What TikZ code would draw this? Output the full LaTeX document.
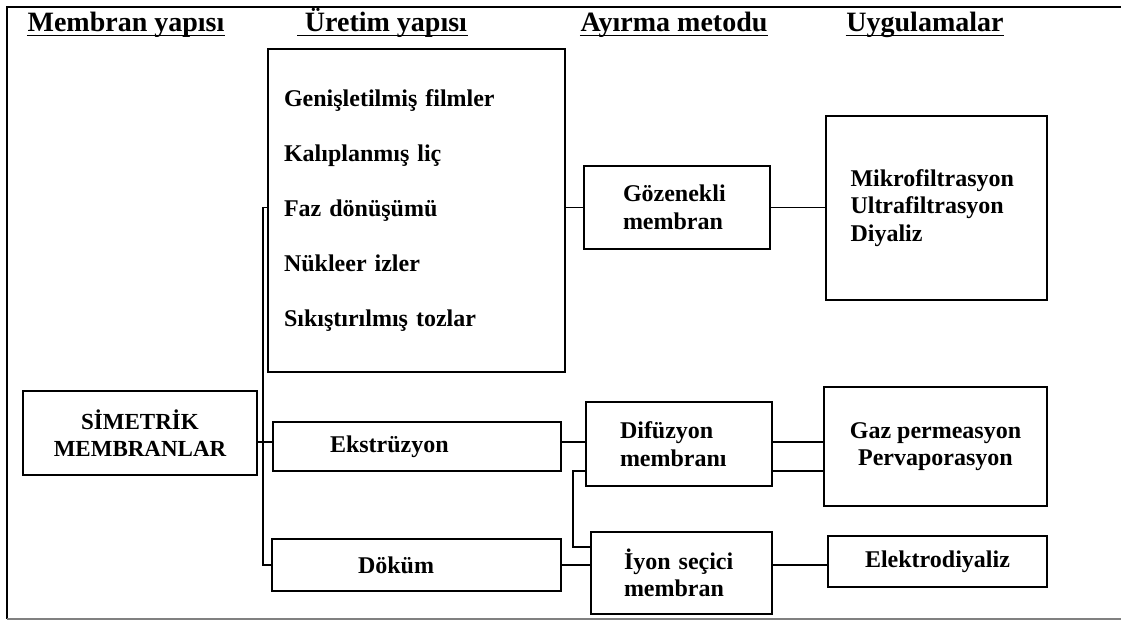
\documentclass[tikz,border=0pt]{standalone}
\usepackage{fontspec}
\setmainfont{Liberation Serif}
\usepackage{tikz}
\usetikzlibrary{calc}
\tikzset{every picture/.style={/utils/exec={\bfseries}}}

\begin{document}
\begin{tikzpicture}[x=1pt, y=-1pt, line width=0.75pt,
    box/.style={draw, line width=1pt, inner sep=0pt, font=\fontsize{12}{13.75}\selectfont\bfseries},
    head/.style={inner sep=0pt, anchor=base, font=\fontsize{14}{16}\selectfont\bfseries}]
        \useasboundingbox (0,0) rectangle (560.5,310.5);
        % Frame
        \draw[line width=1pt] (560.5,3.5) -- (3.5,3.5) -- (3.5,309.5);
        \draw[line width=0.6pt, gray] (3.5,309.5) -- (560.5,309.5);

        % Headings
        \node[head] (h1) at (63,16) {Membran yapısı};
        \node[head] (h2) at (191.25,16) {\ Üretim yapısı};
        \node[head] (h3) at (337,16) {Ayırma metodu};
        \node[head] (h4) at (462.5,16) {Uygulamalar};
        \foreach \h in {h1,h2,h3,h4}
            \draw[line width=0.9pt] ([yshift=-1.7pt]\h.base west) -- ([yshift=-1.7pt]\h.base east);

        % Boxes
        \node[box, minimum width=117pt, minimum height=42pt, align=center, font=\fontsize{11.5}{13.5}\selectfont\bfseries] (sim) at (70,216.5) {SİMETRİK\\MEMBRANLAR};
        \node[box, minimum width=148.5pt, minimum height=161.5pt, text width=132.5pt, align=left, font=\fontsize{12}{27.5}\selectfont\bfseries] (uret) at (208.25,105.25) {Genişletilmiş filmler\\Kalıplanmış liç\\Faz dönüşümü\\Nükleer izler\\Sıkıştırılmış tozlar};
        \node[box, minimum width=144pt, minimum height=24.5pt, text width=87pt, align=left] (ekst) at (208.5,223.25) {Ekstrüzyon};
        \node[box, minimum width=144.5pt, minimum height=26pt, text width=58.5pt, align=left] (dokum) at (208.25,282.5) {Döküm};
        \node[box, minimum width=93pt, minimum height=41.5pt, text width=54pt, align=left, font=\fontsize{12}{14}\selectfont\bfseries] (goz) at (338.5,103.75) {Gözenekli\\membran};
        \node[box, minimum width=93pt, minimum height=42pt, text width=59pt, align=left] (dif) at (339.5,222) {Difüzyon\\membranı};
        \node[box, minimum width=90.5pt, minimum height=41pt, text width=57.5pt, align=left] (iyon) at (340.75,286.5) {İyon seçici\\membran};
        \node[box, minimum width=110.5pt, minimum height=92pt, text width=86pt, align=left] (mikro) at (468.25,104) {Mikrofiltrasyon\\Ultrafiltrasyon\\Diyaliz};
        \node[box, minimum width=111.5pt, minimum height=59.5pt, align=center] (gaz) at (467.75,223.25) {Gaz permeasyon\\Pervaporasyon};
        \node[box, minimum width=109.5pt, minimum height=25.5pt, align=center] (elek) at (468.75,280.75) {Elektrodiyaliz};

        % Connectors
        \coordinate (tk) at (131.5,0);
        \draw (goz.west -| uret.west) -- (tk |- goz.west) |- (dokum.west);
        \draw ($(ekst.west)+(0,-2.25)$) coordinate (e1) -- (e1 -| sim.east);
        \draw (goz.west) -- (goz.west -| uret.east);
        \draw (goz.east) -- (goz.east -| mikro.west);
        \draw ($(dif.west)+(0,-1)$) coordinate (d1) -- (d1 -| ekst.east);
        \draw (d1 -| dif.east) -- (d1 -| gaz.west);
        \draw ($(dif.east)+(0,13.5)$) coordinate (d2) -- (d2 -| gaz.west);
        \draw (d2 -| dif.west) -- ++(-6,0) |- ($(iyon.west)+(0,-13)$);
        \draw (dokum.east) -- (dokum.east -| iyon.west);
        \draw ($(iyon.east)+(0,-4)$) coordinate (i1) -- (i1 -| elek.west);
\end{tikzpicture}
\end{document}
